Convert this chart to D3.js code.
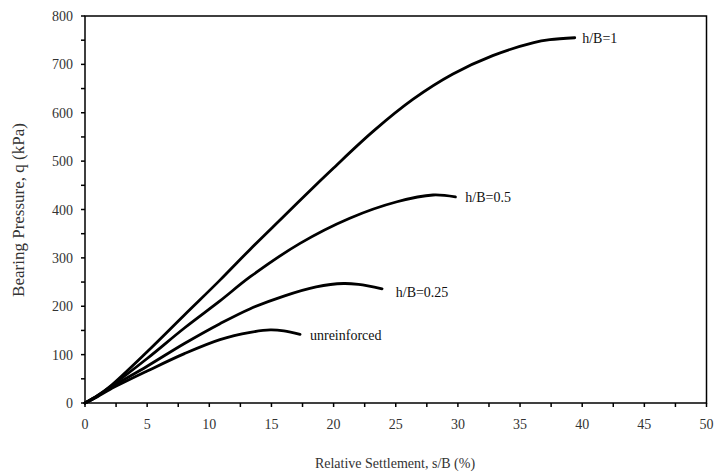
<!DOCTYPE html>
<html><head><meta charset="utf-8">
<script src="https://cdn.jsdelivr.net/npm/d3@7"></script>
<style>body{margin:0;background:#fff}svg{display:block}</style>
</head><body><svg id="c" width="717" height="476"></svg>
<script>
const xTicks = [0,5,10,15,20,25,30,35,40,45,50];
const yTicks = [0,100,200,300,400,500,600,700,800];
const seriesNames = ["h/B=1","h/B=0.5","h/B=0.25","unreinforced"];
const sHB1   = [[0,0],[1,15],[2,34],[5,106],[8,182],[10.86,254],[13.3,318],[16,386],[18.9,459],[20,486],[23.2,562],[26.4,628],[29.6,680],[32.8,718],[36.1,745],[37.4,751],[39.4,755]];
const sHB05  = [[0,0],[1,15],[2,33],[5,92],[8,155],[10.86,211],[13.3,261],[17.3,330],[21.3,382],[25.1,416],[28,430],[29.8,426]];
const sHB025 = [[0,0],[1,14],[2,31],[5,76],[8,123],[10.86,164],[13.3,195],[16,221],[18.6,240],[20.8,247],[22,245],[23.9,236]];
const sUnr   = [[0,0],[1,13],[2,28],[5,66],[8,102],[10.86,131],[13.3,146],[14.9,151],[16,149],[17.3,142]];
const labelAnchors = [[40,755],[30.6,425],[25,230],[18.1,140]];

const svg = d3.select("#c");
const m = {l:85, r:706.5, t:16, b:403};
const x = d3.scaleLinear().domain([0,50]).range([m.l,m.r]);
const y = d3.scaleLinear().domain([0,800]).range([m.b,m.t]);
const font = "'Liberation Serif', 'Times New Roman', serif";
const tc = "#333";

svg.append("rect").attr("x",m.l).attr("y",m.t).attr("width",m.r-m.l).attr("height",m.b-m.t)
  .attr("fill","none").attr("stroke","#000").attr("stroke-width",1.5);

const xMinor = d3.range(0,50.01,2.5);
svg.append("g").selectAll("line").data(xMinor).join("line")
  .attr("x1",d=>x(d)).attr("x2",d=>x(d)).attr("y1",m.b).attr("y2",m.b+4)
  .attr("stroke","#000").attr("stroke-width",1.5);
svg.append("g").selectAll("text").data(xTicks).join("text")
  .attr("x",d=>x(d)).attr("y",m.b+26).attr("text-anchor","middle")
  .attr("font-family",font).attr("font-size",14).attr("fill",tc).text(d=>d);

const yMinor = d3.range(0,800.1,50);
svg.append("g").selectAll("line").data(yMinor).join("line")
  .attr("x1",m.l-4).attr("x2",m.l).attr("y1",d=>y(d)).attr("y2",d=>y(d))
  .attr("stroke","#000").attr("stroke-width",1.5);
svg.append("g").selectAll("text").data(yTicks).join("text")
  .attr("x",m.l-12).attr("y",d=>y(d)+5).attr("text-anchor","end")
  .attr("font-family",font).attr("font-size",14).attr("fill",tc).text(d=>d);

svg.append("text").attr("x",395).attr("y",468).attr("text-anchor","middle")
  .attr("font-family",font).attr("font-size",14).attr("fill",tc).text("Relative Settlement, s/B (%)");
svg.append("text").attr("transform",`translate(24,210) rotate(-90)`).attr("text-anchor","middle")
  .attr("font-family",font).attr("font-size",17).attr("fill",tc).text("Bearing Pressure, q (kPa)");

const line = d3.line().x(d=>x(d[0])).y(d=>y(d[1])).curve(d3.curveCatmullRom.alpha(0.5));
const all = [sHB1,sHB05,sHB025,sUnr];
svg.append("g").selectAll("path").data(all).join("path")
  .attr("d",line).attr("fill","none").attr("stroke","#000").attr("stroke-width",2.8)
  .attr("stroke-linejoin","round").attr("stroke-linecap","round");

svg.append("g").selectAll("text").data(seriesNames).join("text")
  .attr("x",(d,i)=>x(labelAnchors[i][0])).attr("y",(d,i)=>y(labelAnchors[i][1])+5)
  .attr("font-family",font).attr("font-size",14).attr("fill","#111").text(d=>d);
</script></body></html>
